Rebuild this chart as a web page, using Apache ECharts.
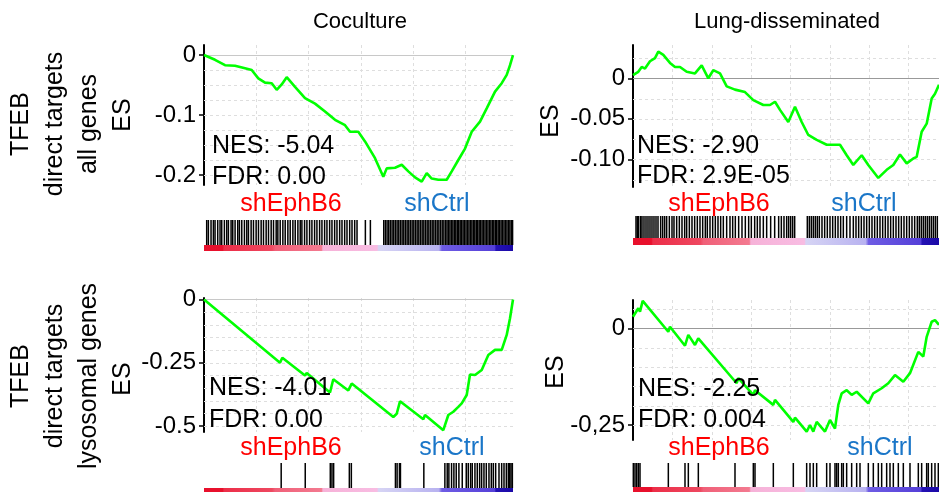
<!DOCTYPE html>
<html><head><meta charset="utf-8">
<script src="https://cdn.jsdelivr.net/npm/echarts@6/dist/echarts.min.js"></script>
<style>html,body{margin:0;padding:0;background:#fff}#c{width:939px;height:492px}</style>
</head><body><div id="c"></div>
<script>
// ---------------- DATA ----------------
const colTitles = ['Coculture', 'Lung-disseminated'];
const rowTitles = ['TFEB\ndirect targets\nall genes', 'TFEB\ndirect targets\nlysosomal genes'];
const groupLabels = ['shEphB6', 'shCtrl'];
const nesTexts = ['NES: -5.04', 'NES: -2.90', 'NES: -4.01', 'NES: -2.25'];
const fdrTexts = ['FDR: 0.00', 'FDR: 2.9E-05', 'FDR: 0.00', 'FDR: 0.004'];

// list sizes (ranked genes)
const listSizeCoc = 14800;
const listSizeLung = 19462;

// Panel 1: Coculture, all genes
const rankCocAll = [0,527,1006,1485,1964,2285,2601,2922,3243,3482,3722,3961,4359,4838,5317,5796,6275,6754,6993,7391,7712,8191,8588,8751,9149,9470,9786,10107,10428,10668,10907,11223,11625,11865,12181,12502,12823,13220,13541,13939,14260,14499,14657,14800];
const esCocAll = [0,-0.008,-0.017,-0.018,-0.022,-0.025,-0.039,-0.046,-0.047,-0.058,-0.049,-0.037,-0.053,-0.072,-0.081,-0.094,-0.108,-0.117,-0.128,-0.128,-0.144,-0.172,-0.203,-0.189,-0.188,-0.183,-0.194,-0.204,-0.211,-0.197,-0.206,-0.208,-0.208,-0.194,-0.175,-0.156,-0.128,-0.111,-0.089,-0.061,-0.047,-0.033,-0.017,0];
const hitsCocAll = [129,209,337,449,529,657,769,849,977,1089,1169,1297,1377,1489,1617,1697,1809,1937,2049,2129,2257,2369,2497,2609,2737,2849,2977,3089,3217,3329,3457,3537,3649,3777,3889,4017,4129,4257,4369,4497,4609,4689,4817,4929,5057,5169,5297,5409,5537,5649,5777,5889,6017,6129,6257,6369,6497,6609,6737,6849,6977,7089,7217,7329,7729,7969,
 8609,8689,8769,8849,8929,9009,9089,9169,9249,9329,9409,9489,9569,9649,9729,9809,9889,9969,10049,10129,10209,10289,10369,10449,10529,10609,10689,10769,10849,10929,11009,11089,11169,11249,11329,11409,11489,
 11570,11640,11710,11780,11850,11920,11990,12060,12130,12200,12270,12340,12410,12480,12550,12620,12690,12760,12830,12900,12970,13040,13110,13180,13250,13320,13390,13460,13530,13600,13670,13740,13810,13880,13950,14020,14090,14160,14230,14300,14370,14440,14510,14580,14650,14720,14780];
const yTicksCocAll = [0, -0.1, -0.2];
const yGridCocAll = [-0.025,-0.05,-0.075,-0.1,-0.125,-0.15,-0.175,-0.2];

// Panel 2: Lung-disseminated, all genes
const rankLungAll = [0,337,553,763,1081,1399,1609,1927,2353,2671,2989,3415,3943,4369,4789,5107,5533,5959,6487,7123,7651,8287,8713,9031,9349,9877,10303,10729,11149,11683,12319,13165,13591,14011,14545,14965,15601,16135,16555,16981,17407,17827,18043,18361,18679,18997,19207,19462];
const esLungAll = [0.004,0.008,0.014,0.012,0.021,0.025,0.033,0.029,0.019,0.014,0.014,0.008,0.006,0.016,0,0.010,0.006,-0.010,-0.014,-0.017,-0.027,-0.033,-0.033,-0.029,-0.039,-0.054,-0.035,-0.054,-0.070,-0.076,-0.082,-0.082,-0.095,-0.107,-0.095,-0.107,-0.123,-0.113,-0.107,-0.094,-0.105,-0.099,-0.097,-0.066,-0.056,-0.025,-0.019,-0.008];
const hitsLungAll = [191,275,360,487,572,699,827,954,1081,1208,1335,1463,1590,1759,1887,2014,2141,2311,2480,2607,2777,2947,3116,3286,3413,3583,3752,3922,4091,4261,4431,4600,4727,4897,5067,5236,5406,5575,5745,5957,6169,6339,6508,6720,6932,7144,7356,7526,7738,7907,8077,8289,8501,8755,9010,9264,9434,9603,9773,9900,10027,10155,10282,
 11087,11215,11342,11469,11596,11723,11851,12020,12190,12359,12529,12699,12868,13038,13207,13377,13589,13801,14013,14183,14352,14522,14691,14861,15031,15200,15370,15539,15709,15879,16048,16218,16387,16557,16727,16896,17066,17235,17405,17575,17744,17914,18083,18211,18338,18465,18592,18719,18847,18974,19101,19228,19355];
const yTicksLungAll = [0, -0.05, -0.1];
const yGridLungAll = [0.025,-0.025,-0.05,-0.075,-0.1,-0.125];

// Panel 3: Coculture, lysosomal genes
const rankCocLyso = [0,3640,3751,4838,4919,6035,6193,6912,7075,9067,9230,9388,10505,10586,11462,11702,11941,12181,12344,12583,12741,12981,13302,13618,13939,14260,14499,14657,14800];
const esCocLyso = [0,-0.25,-0.23,-0.30,-0.29,-0.367,-0.315,-0.359,-0.332,-0.464,-0.451,-0.402,-0.473,-0.456,-0.516,-0.456,-0.443,-0.424,-0.41,-0.377,-0.296,-0.298,-0.278,-0.219,-0.199,-0.199,-0.14,-0.074,0];
const hitsCocLyso = [3697,4849,6049,6129,6209,6961,7057,9169,9249,9361,9409,10529,11537,11649,11729,11857,11969,12081,12209,12369,12561,12657,12769,12849,12977,13089,13201,13297,13409,13521,13649,13761,13857,13969,14129,14257,14369,14481,14577,14641,14705,14769];
const yTicksCocLyso = [0, -0.25, -0.5];
const yGridCocLyso = [-0.05,-0.1,-0.15,-0.2,-0.25,-0.3,-0.35,-0.4,-0.45,-0.5];

// Panel 4: Lung-disseminated, lysosomal genes
const rankLungLyso = [0,338,445,617,2245,2353,3307,3517,3943,4152,6595,6697,7651,7759,8923,9031,10195,10303,11047,11257,11467,11683,12211,12529,12847,13057,13273,13591,13909,14227,14965,15283,15817,16237,16663,17191,17617,18145,18463,18679,18997,19207,19462];
const esLungLyso = [0.030,0.052,0.043,0.071,-0.009,0.004,-0.045,-0.017,-0.043,-0.026,-0.142,-0.129,-0.172,-0.16,-0.198,-0.185,-0.242,-0.231,-0.267,-0.25,-0.267,-0.242,-0.267,-0.237,-0.259,-0.198,-0.168,-0.16,-0.172,-0.164,-0.194,-0.168,-0.155,-0.142,-0.121,-0.138,-0.116,-0.061,-0.073,-0.022,0.017,0.021,0.009];
const hitsLungLyso = [21,127,233,339,445,2247,3307,3519,4155,6487,7653,7759,8925,10197,11045,11257,11469,11681,12317,12529,12847,12953,13059,13271,13377,13589,13907,14225,14437,14967,15285,15603,15815,16133,16345,16557,16875,17193,17617,18147,18359,18677,18783,18995,19207,19419];
const yTicksLungLyso = [0, -0.25];
const yGridLungLyso = [0.05,-0.05,-0.1,-0.15,-0.2,-0.25];

const xGridCoc = [2500,5000,7500,10000,12500];
const xGridLung = [2500,5000,7500,10000,12500,15000,17500];

// ---------------- LAYOUT / STYLE ----------------
const FONT = "'Liberation Sans', Arial, Helvetica, sans-serif";
const panels = [
  {rank:rankCocAll, es:esCocAll, hits:hitsCocAll, n:listSizeCoc, ticks:yTicksCocAll, yGrid:yGridCocAll, xGrid:xGridCoc,
   left:204, width:309, esTop:45, esH:140, yMin:-0.2167, yMax:0.0167, hitTop:220, hitH:25, barTop:245, barH:6,
   fmt:v=>v===0?'0':v.toFixed(1), zeroColor:'#c8c8c8'},
  {rank:rankLungAll, es:esLungAll, hits:hitsLungAll, n:listSizeLung, ticks:yTicksLungAll, yGrid:yGridLungAll, xGrid:xGridLung,
   left:633, width:306, esTop:45, esH:142, yMin:-0.1342, yMax:0.0411, hitTop:216, hitH:22, barTop:238, barH:7,
   fmt:v=>v===0?'0':v.toFixed(2), zeroColor:'#999'},
  {rank:rankCocLyso, es:esCocLyso, hits:hitsCocLyso, n:listSizeCoc, ticks:yTicksCocLyso, yGrid:yGridCocLyso, xGrid:xGridCoc,
   left:204, width:309, esTop:298, esH:134, yMin:-0.5231, yMax:0.0059, hitTop:463, hitH:25, barTop:488, barH:5,
   fmt:v=>v===0?'0':String(v), zeroColor:'#c8c8c8'},
  {rank:rankLungLyso, es:esLungLyso, hits:hitsLungLyso, n:listSizeLung, ticks:yTicksLungLyso, yGrid:yGridLungLyso, xGrid:xGridLung,
   left:633, width:306, esTop:300, esH:140, yMin:-0.2888, yMax:0.0732, hitTop:463, hitH:24, barTop:487, barH:5,
   fmt:v=>v===0?'0':v.toFixed(2).replace('.',','), zeroColor:'#999'}
];

const barStops = [
  {offset:0, color:'#e8102c'},{offset:0.06, color:'#e8102c'},{offset:0.065, color:'#ec2e48'},
  {offset:0.22, color:'#ee4860'},{offset:0.23, color:'#f06078'},{offset:0.38, color:'#f37a90'},
  {offset:0.385, color:'#f6b2d8'},{offset:0.56, color:'#f8bce2'},{offset:0.565, color:'#d6d4f4'},
  {offset:0.76, color:'#b8b2f0'},{offset:0.77, color:'#6e5ce4'},{offset:0.94, color:'#5540d8'},
  {offset:0.945, color:'#2412b4'},{offset:1, color:'#1a08a6'}
];

const grid=[], xAxis=[], yAxis=[], series=[];
panels.forEach((p)=>{
  const g = grid.length;
  grid.push({left:p.left, top:p.esTop, width:p.width, height:p.esH});
  grid.push({left:p.left, top:p.hitTop, width:p.width, height:p.hitH});
  grid.push({left:p.left, top:p.barTop, width:p.width, height:p.barH});
  for (let k=0;k<3;k++) xAxis.push({type:'value', gridIndex:g+k, min:0, max:p.n, show:false});
  yAxis.push({type:'value', gridIndex:g, min:p.yMin, max:p.yMax,
    axisLine:{show:true, onZero:false, lineStyle:{color:'#000', width:2}},
    axisTick:{show:true, length:5, customValues:p.ticks, lineStyle:{color:'#000', width:1.5}},
    axisLabel:{show:true, customValues:p.ticks, formatter:p.fmt, fontSize:24, fontFamily:FONT, color:'#000', margin:8},
    splitLine:{show:false}});
  yAxis.push({type:'value', gridIndex:g+1, min:0, max:1, show:false});
  yAxis.push({type:'value', gridIndex:g+2, min:0, max:1, show:false});

  // horizontal dashed grid
  series.push({type:'custom', xAxisIndex:g, yAxisIndex:g, silent:true, z:1,
    data:p.yGrid.map(v=>[0,v]),
    renderItem:(params, api)=>{
      const cs=params.coordSys; const y=Math.round(api.coord([0, api.value(1)])[1])+0.5;
      return {type:'line', shape:{x1:cs.x, y1:y, x2:cs.x+cs.width, y2:y}, style:{stroke:'#dedede', lineWidth:1, lineDash:[3,3]}};
    }});
  // vertical dashed grid
  series.push({type:'custom', xAxisIndex:g, yAxisIndex:g, silent:true, z:1,
    data:p.xGrid.map(v=>[v,0]),
    renderItem:(params, api)=>{
      const cs=params.coordSys; const x=Math.round(api.coord([api.value(0), 0])[0])+0.5;
      return {type:'line', shape:{x1:x, y1:cs.y, x2:x, y2:cs.y+cs.height}, style:{stroke:'#dedede', lineWidth:1, lineDash:[3,3]}};
    }});
  // zero line
  series.push({type:'custom', xAxisIndex:g, yAxisIndex:g, silent:true, z:2,
    data:[[0,0]],
    renderItem:(params, api)=>{
      const cs=params.coordSys; const y=Math.round(api.coord([0, api.value(1)])[1])+0.5;
      return {type:'line', shape:{x1:cs.x, y1:y, x2:cs.x+cs.width, y2:y}, style:{stroke:p.zeroColor, lineWidth:1}};
    }});
  // running ES
  series.push({type:'line', xAxisIndex:g, yAxisIndex:g, z:5, clip:false, symbol:'none', showSymbol:false,
    data:p.rank.map((r,i)=>[r, p.es[i]]), lineStyle:{color:'#00ff00', width:2.6}});
  // hits
  series.push({type:'custom', xAxisIndex:g+1, yAxisIndex:g+1, silent:true,
    data:p.hits.map(r=>[r,0.5]),
    renderItem:(params, api)=>{
      const cs=params.coordSys; const x=api.coord([api.value(0), 0.5])[0];
      return {type:'line', shape:{x1:x, y1:cs.y, x2:x, y2:cs.y+cs.height}, style:{stroke:'#000', lineWidth:1.5}};
    }});
  // ranked metric colour bar
  series.push({type:'custom', xAxisIndex:g+2, yAxisIndex:g+2, silent:true,
    data:[[0, 0, p.n, 1]],
    renderItem:(params, api)=>{
      const a=api.coord([api.value(0), api.value(1)]); const b=api.coord([api.value(2), api.value(3)]);
      return {type:'rect', shape:{x:a[0], y:b[1], width:b[0]-a[0], height:a[1]-b[1]},
        style:{fill:new echarts.graphic.LinearGradient(0,0,1,0, barStops)}};
    }});
});

function txt(text, x, y, opts){
  return Object.assign({type:'text', x:x, y:y, z:100, silent:true,
    style:Object.assign({text:text, fontSize:25, fontFamily:FONT, fill:'#000', textAlign:'left', textVerticalAlign:'middle'}, opts && opts.style || {})},
    opts && opts.el || {});
}
const R = Math.PI/2;
const graphic = [
  txt(colTitles[0], 360, 22, {style:{fontSize:22, textAlign:'center'}}),
  txt(colTitles[1], 787, 22, {style:{fontSize:22, textAlign:'center'}}),
  txt(rowTitles[0], 55, 124, {style:{textAlign:'center', lineHeight:34}, el:{rotation:R}}),
  txt(rowTitles[1], 55, 376, {style:{textAlign:'center', lineHeight:34}, el:{rotation:R}}),
  txt('ES', 123, 115, {style:{textAlign:'center'}, el:{rotation:R}}),
  txt('ES', 551, 121, {style:{textAlign:'center'}, el:{rotation:R}}),
  txt('ES', 123, 379, {style:{textAlign:'center'}, el:{rotation:R}}),
  txt('ES', 556, 372, {style:{textAlign:'center'}, el:{rotation:R}}),
  txt(groupLabels[0], 291, 204, {style:{textAlign:'center', fill:'#ff0000'}}),
  txt(groupLabels[1], 437, 204, {style:{textAlign:'center', fill:'#1a76c8'}}),
  txt(groupLabels[0], 719, 204, {style:{textAlign:'center', fill:'#ff0000'}}),
  txt(groupLabels[1], 864, 204, {style:{textAlign:'center', fill:'#1a76c8'}}),
  txt(groupLabels[0], 291, 448, {style:{textAlign:'center', fill:'#ff0000'}}),
  txt(groupLabels[1], 452, 448, {style:{textAlign:'center', fill:'#1a76c8'}}),
  txt(groupLabels[0], 719, 448, {style:{textAlign:'center', fill:'#ff0000'}}),
  txt(groupLabels[1], 880, 448, {style:{textAlign:'center', fill:'#1a76c8'}}),
  txt(nesTexts[0], 212, 146), txt(fdrTexts[0], 212, 177.5),
  txt(nesTexts[1], 637, 146), txt(fdrTexts[1], 637, 176),
  txt(nesTexts[2], 209, 388.5), txt(fdrTexts[2], 209, 420),
  txt(nesTexts[3], 638, 389), txt(fdrTexts[3], 638, 420)
];

const chart = echarts.init(document.getElementById('c'), null, {renderer:'canvas'});
chart.setOption({animation:false, backgroundColor:'#fff', grid, xAxis, yAxis, series, graphic});
</script></body></html>
